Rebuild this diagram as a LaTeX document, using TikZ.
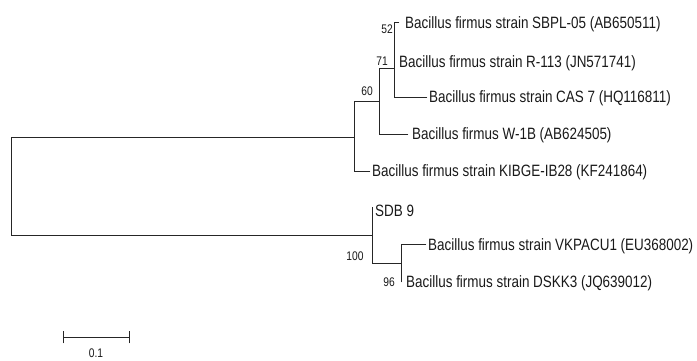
\documentclass[tikz,border=0pt]{standalone}
\usepackage{fontspec}
\setmainfont{Liberation Sans}
\newfontfamily\treefont[FakeStretch=0.82]{Liberation Sans}
\begin{document}
\begin{tikzpicture}[x=1pt,y=-1pt,
  branch/.style={draw=black!85, line width=0.95pt, line cap=rect},
  taxon/.style={anchor=base west, inner sep=0pt, text=black!90,
    font=\treefont\fontsize{16.4}{19}\selectfont},
  boot/.style={inner sep=0pt, text=black!90,
    font=\treefont\fontsize{12.5}{14}\selectfont},
]
\useasboundingbox (0,0) rectangle (697,360);

% internal nodes of the tree
\coordinate (root) at (11,186);
\coordinate (nA) at (354,137);
\coordinate (nB) at (379,101);
\coordinate (nC) at (394,68);
\coordinate (nD) at (372,235);
\coordinate (nE) at (401,263);

% branch tips
\coordinate (tSBPL) at (399,22.5);
\coordinate (tR113) at (394,62);
\coordinate (tCAS) at (427,97);
\coordinate (tW1B) at (408,134);
\coordinate (tKIB) at (370,171);
\coordinate (tSDB) at (372,207);
\coordinate (tVKP) at (426,244);
\coordinate (tDSK) at (401,282);

% taxon labels
\node[taxon] (SBPL) at (405,28.5) {Bacillus firmus strain SBPL-05 (AB650511)};
\node[taxon] (R113) at (399,67.5) {Bacillus firmus strain R-113 (JN571741)};
\node[taxon] (CAS) at (429,102.5) {Bacillus firmus strain CAS 7 (HQ116811)};
\node[taxon] (W1B) at (412,139.5) {Bacillus firmus W-1B (AB624505)};
\node[taxon] (KIB) at (372,176) {Bacillus firmus strain KIBGE-IB28 (KF241864)};
\node[taxon] (SDB) at (375,216) {SDB 9};
\node[taxon] (VKP) at (428,250) {Bacillus firmus strain VKPACU1 (EU368002)};
\node[taxon] (DSK) at (406,287.5) {Bacillus firmus strain DSKK3 (JQ639012)};

% bootstrap values
\node[boot] (b52) at (387,29) {52};
\node[boot] (b71) at (382,61) {71};
\node[boot] (b60) at (367,91) {60};
\node[boot] (b100) at (355,256) {100};
\node[boot] (b96) at (389,282) {96};

% branches
\draw[branch] (root) |- (nA);
\draw[branch] (root) |- (nD);
\draw[branch] (nA) |- (nB);
\draw[branch] (nA) |- (tKIB);
\draw[branch] (nB) |- (nC);
\draw[branch] (nB) |- (tW1B);
\draw[branch] (nC) |- (tSBPL);
\draw[branch] (nC) |- (tR113);
\draw[branch] (nC) |- (tCAS);
\draw[branch] (nD) |- (tSDB);
\draw[branch] (nD) |- (nE);
\draw[branch] (nE) |- (tVKP);
\draw[branch] (nE) |- (tDSK);

% scale bar
\coordinate (sL) at (63,337);
\coordinate (sR) at (129,337);
\draw[branch] (sL) -- (sR);
\draw[branch] ([yshift=-6pt]sL) -- ([yshift=6pt]sL);
\draw[branch] ([yshift=-6pt]sR) -- ([yshift=6pt]sR);
\node[boot] (scale) at (96,353) {0.1};
\end{tikzpicture}
\end{document}
